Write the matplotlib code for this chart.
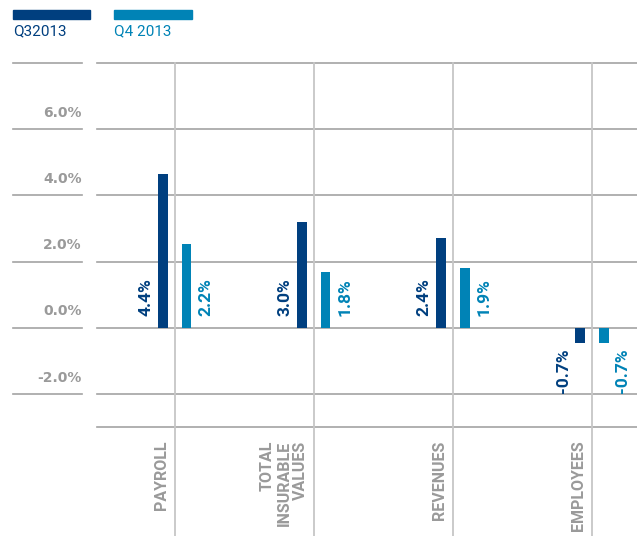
import numpy as np
import matplotlib
matplotlib.use("Agg")
from matplotlib import pyplot as plt
from matplotlib.patches import Rectangle

plt.rcParams['font.family'] = ['Roboto', 'DejaVu Sans']

# data
categories = ['PAYROLL', 'TOTAL\nINSURABLE\nVALUES', 'REVENUES', 'EMPLOYEES']
series_names = ['Q32013', 'Q4 2013']
# bar heights as drawn against the gridlines
q3_heights = [4.65, 3.20, 2.71, -0.46]
q4_heights = [2.54, 1.68, 1.81, -0.44]
# values printed on the bars
q3_labels = [4.4, 3.0, 2.4, -0.7]
q4_labels = [2.2, 1.8, 1.9, -0.7]
grid_values = [8, 6, 4, 2, 0, -2]
tick_labels = ['6.0%', '4.0%', '2.0%', '0.0%', '-2.0%']
tick_values = [6, 4, 2, 0, -2]

dark = '#003f7f'
light = '#0083b6'
hgrid = '#a3a3a3'
vgrid = '#c6c6c6'
textgray = '#9a9a9a'

W, H = 637, 536
fig = plt.figure(figsize=(W / 100, H / 100), dpi=100)

# main plot area, pixels 97..637 wide, 63..536 tall
ax = fig.add_axes([97 / W, 0, (W - 97) / W, (H - 63) / H])
ax.set_xlim(-0.5575, 3.323)
ax.set_ylim(-6.28, 8)
ax.axis('off')

x = np.arange(len(categories))
off = 0.085
bw = 0.07

for g in grid_values:
    ax.axhline(g, color=hgrid, lw=1.2, clip_on=False, zorder=1)
ax.axhline(-3.0, color=hgrid, lw=1.2, clip_on=False, zorder=1)
for xi in x:
    ax.axvline(xi, color=vgrid, lw=1.3, clip_on=False, zorder=1)

ax.bar(x - off, q3_heights, bw, color=dark, zorder=3)
ax.bar(x + off, q4_heights, bw, color=light, zorder=3)

for i in range(len(categories)):
    for val, dx, col in [(q3_labels[i], -0.205, dark), (q4_labels[i], 0.222, light)]:
        if val >= 0:
            ax.annotate('%.1f%%' % val, (x[i] + dx, 0), xytext=(0, 8.6),
                        textcoords='offset points', rotation=90, ha='center',
                        va='bottom', color=col, fontsize=12.5, fontweight='bold')
        else:
            ax.annotate('%.1f%%' % val, (x[i] + dx, 0), xytext=(0, -14.4),
                        textcoords='offset points', rotation=90, ha='center',
                        va='top', color=col, fontsize=12.5, fontweight='bold')

    ax.annotate(categories[i], (x[i], -3.0), xytext=(-4, -9.5),
                textcoords='offset points', rotation=90, ha='right', va='top',
                multialignment='right', color=textgray, fontsize=11.5,
                fontweight='bold', linespacing=1.15)

# left label column with its own short gridlines
axl = fig.add_axes([13 / W, 0, (82 - 13) / W, (H - 63) / H])
axl.set_xlim(0, 1)
axl.set_ylim(-6.28, 8)
axl.axis('off')
for g in grid_values:
    axl.axhline(g, color=hgrid, lw=1.2, clip_on=False)
for v, t in zip(tick_values, tick_labels):
    axl.text(1, v + 0.5, t, ha='right', va='center', color=textgray,
             fontsize=10, fontweight='bold', family='DejaVu Sans')

# legend
fig.add_artist(Rectangle((13 / W, 1 - 19 / H), 77 / W, 9 / H, color=dark,
                         transform=fig.transFigure))
fig.add_artist(Rectangle((114 / W, 1 - 19 / H), 78 / W, 9 / H, color=light,
                         transform=fig.transFigure))
fig.text(13 / W, 1 - 31.5 / H, series_names[0], color=dark, fontsize=11,
         ha='left', va='center')
fig.text(114 / W, 1 - 31.5 / H, series_names[1], color=light, fontsize=11,
         ha='left', va='center')

fig.savefig('out.png', dpi=100)
